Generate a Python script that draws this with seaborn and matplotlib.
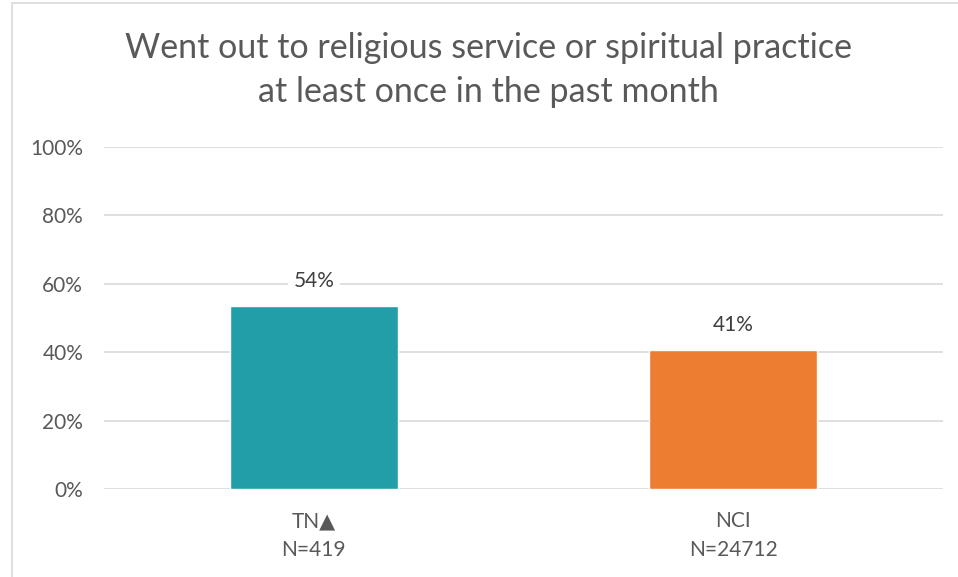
import matplotlib as mtl
mtl.use('Agg')
import matplotlib.pyplot as plt
import seaborn as sns
import pandas as pd
from matplotlib.patches import Rectangle

# data
groups = ['TN\u25B2\nN=419', 'NCI\nN=24712']
values = [0.536, 0.406]
labels = ['54%', '41%']
colors = ['#229EA8', '#ED7D31']
title = 'Went out to religious service or spiritual practice\nat least once in the past month'

sns.set_style('white')
plt.rcParams['font.family'] = ['Lato', 'DejaVu Sans']

df = pd.DataFrame({'group': groups, 'value': values})

fig = plt.figure(figsize=(9.58, 5.77), dpi=100)
ax = fig.add_axes([104/958, 1 - 489/577, (943-104)/958, (489-147)/577])

sns.barplot(data=df, x='group', y='value', hue='group', palette=colors,
            width=0.4, legend=False, ax=ax, zorder=3, saturation=1)

ax.set_ylim(0, 1)
ax.set_xlim(-0.5, 1.5)
ax.set_yticks([0, 0.2, 0.4, 0.6, 0.8, 1.0])
ax.set_yticklabels(['0%', '20%', '40%', '60%', '80%', '100%'])
ax.yaxis.grid(True, color='#D9D9D9', lw=1.2, zorder=0)
ax.set_axisbelow(True)
for s in ax.spines.values():
    s.set_visible(False)
ax.tick_params(axis='both', length=0, labelsize=15, colors='#595959')
ax.tick_params(axis='y', pad=15)
ax.tick_params(axis='x', pad=16)
ax.set_xlabel('')
ax.set_ylabel('')
for lbl in ax.get_xticklabels():
    lbl.set_linespacing(1.55)

for i, (v, t) in enumerate(zip(values, labels)):
    ax.text(i, v + 0.073, t, ha='center', va='center', fontsize=15,
            color='#404040', zorder=4,
            bbox=dict(facecolor='white', edgecolor='none', pad=4))

fig.text(488/958, 1 - 70/577, title, ha='center', va='center', fontsize=24.5,
         color='#595959', linespacing=1.5)

fig.patches.append(Rectangle((12/958, -0.1), 1.2, 1 - 3/577 + 0.1,
                             transform=fig.transFigure, fill=False,
                             edgecolor='#D9D9D9', lw=1.2))

plt.savefig('out.png', dpi=100)
